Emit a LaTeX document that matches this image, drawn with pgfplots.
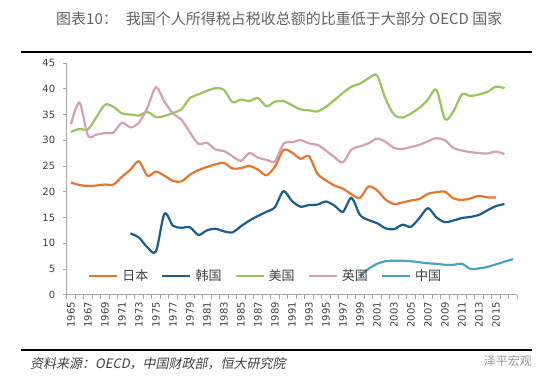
\documentclass[border=0pt]{standalone}
\usepackage{fontspec}
\setmainfont{DejaVu Sans}
\newfontfamily\cjk{Noto Sans CJK SC}
\newfontfamily\cjkit[FakeSlant=0.2]{Noto Sans CJK SC}
\usepackage{pgfplots}
\pgfplotsset{compat=1.18}
\definecolor{jp}{HTML}{E8772E}
\definecolor{kr}{HTML}{1A5E91}
\definecolor{us}{HTML}{9BC45C}
\definecolor{uk}{HTML}{D4A1B1}
\definecolor{cn}{HTML}{4BA3C3}
\definecolor{axisgray}{HTML}{A6A6A6}
\definecolor{labelgray}{HTML}{404040}
\definecolor{titlegray}{HTML}{626262}
\begin{document}
\begin{tikzpicture}[x=1pt,y=1pt]
\useasboundingbox (0,0) rectangle (550,382);
\node[anchor=west, font=\cjk\fontsize{15}{16}\selectfont, text=titlegray, inner sep=0pt] at (56,363) {图表10：\hspace{8pt}我国个人所得税占税收总额的比重低于大部分 OECD 国家};
\draw[line width=1.8pt] (21,330) -- (532,330);
\draw[line width=1.8pt] (21,32) -- (532,32);
\node[anchor=west, font=\cjkit\fontsize{13}{14}\selectfont, text=labelgray, inner sep=0pt] at (30,18) {资料来源：OECD，中国财政部，恒大研究院};
\node[anchor=east, font=\cjk\fontsize{12}{13}\selectfont, text=black!40, inner sep=0pt] at (532,21) {泽平宏观};
\begin{axis}[
  at={(66.7pt,87.3pt)}, anchor=south west,
  scale only axis, width=450.5pt, height=231.7pt,
  xmin=1964.5, xmax=2017.5, ymin=0, ymax=45,
  axis x line*=bottom, axis y line*=left,
  axis line style={draw=axisgray, line width=0.8pt},
  ytick={0,5,...,45},
  xtick={1965,1967,...,2015},
  minor xtick={1964.5,1965.5,...,2017.5},
  xtick style={draw=none},
  minor x tick style={draw=axisgray, line width=0.6pt},
  ytick style={draw=axisgray, line width=0.6pt},
  major tick length=4pt, minor tick length=4pt,
  tick align=outside,
  /pgf/number format/1000 sep={},
  /pgf/number format/assume math mode=true,
  tick label style={font=\fontsize{10}{10}\selectfont, text=labelgray},
  x tick label style={rotate=90, anchor=east},
  y tick label style={xshift=-4pt},
  legend style={at={(axis cs:1967,3.64)}, anchor=west, draw=none, fill=none, inner sep=0pt,
    legend columns=5, font=\cjk\fontsize{13}{13}\selectfont, text=labelgray,
    /tikz/every odd column/.append style={column sep=2pt},
    /tikz/every even column/.append style={column sep=11pt}},
  legend image code/.code={\draw[#1] (0pt,0pt) -- (28pt,0pt);},
  every axis plot/.append style={line width=2.2pt, smooth, tension=0.5, no markers},
]
\addplot[jp] coordinates {(1965,21.8)(1966,21.3)(1967,21.1)(1968,21.2)(1969,21.4)(1970,21.4)(1971,22.9)(1972,24.3)(1973,25.9)(1974,23.1)(1975,23.9)(1976,23.1)(1977,22.1)(1978,22.0)(1979,23.3)(1980,24.2)(1981,24.8)(1982,25.3)(1983,25.6)(1984,24.5)(1985,24.6)(1986,25.0)(1987,24.3)(1988,23.2)(1989,24.9)(1990,28.1)(1991,27.6)(1992,26.4)(1993,26.9)(1994,23.5)(1995,22.2)(1996,21.2)(1997,20.6)(1998,19.5)(1999,18.8)(2000,21.0)(2001,20.3)(2002,18.5)(2003,17.6)(2004,17.9)(2005,18.3)(2006,18.6)(2007,19.6)(2008,19.9)(2009,20.0)(2010,18.7)(2011,18.4)(2012,18.7)(2013,19.2)(2014,18.9)(2015,18.9)};
\addlegendentry{日本}
\addplot[kr] coordinates {(1972,11.9)(1973,11.1)(1974,9.2)(1975,8.4)(1976,15.7)(1977,13.4)(1978,13.0)(1979,13.1)(1980,11.6)(1981,12.5)(1982,12.8)(1983,12.3)(1984,12.1)(1985,13.3)(1986,14.4)(1987,15.3)(1988,16.1)(1989,17.0)(1990,20.1)(1991,18.2)(1992,17.1)(1993,17.4)(1994,17.5)(1995,18.1)(1996,17.3)(1997,16.1)(1998,18.8)(1999,15.5)(2000,14.5)(2001,13.9)(2002,12.9)(2003,12.7)(2004,13.6)(2005,13.2)(2006,14.9)(2007,16.8)(2008,15.0)(2009,14.1)(2010,14.4)(2011,14.9)(2012,15.1)(2013,15.5)(2014,16.4)(2015,17.2)(2016,17.6)};
\addlegendentry{韩国}
\addplot[us] coordinates {(1965,31.6)(1966,32.2)(1967,32.1)(1968,34.5)(1969,36.9)(1970,36.5)(1971,35.2)(1972,35.0)(1973,34.8)(1974,35.5)(1975,34.5)(1976,34.7)(1977,35.3)(1978,36.0)(1979,38.2)(1980,38.9)(1981,39.6)(1982,40.1)(1983,39.8)(1984,37.4)(1985,37.9)(1986,37.6)(1987,38.2)(1988,36.6)(1989,37.5)(1990,37.6)(1991,36.8)(1992,36.0)(1993,35.8)(1994,35.6)(1995,36.5)(1996,37.8)(1997,39.2)(1998,40.4)(1999,41.0)(2000,42.0)(2001,42.6)(2002,38.1)(2003,35.0)(2004,34.4)(2005,35.2)(2006,36.3)(2007,37.9)(2008,39.8)(2009,34.1)(2010,35.6)(2011,38.9)(2012,38.6)(2013,38.9)(2014,39.4)(2015,40.4)(2016,40.1)};
\addlegendentry{美国}
\addplot[uk] coordinates {(1965,33.1)(1966,37.3)(1967,30.9)(1968,31.1)(1969,31.4)(1970,31.5)(1971,33.4)(1972,32.5)(1973,33.4)(1974,36.3)(1975,40.3)(1976,37.5)(1977,35.2)(1978,34.0)(1979,31.5)(1980,29.3)(1981,29.5)(1982,28.2)(1983,27.9)(1984,26.9)(1985,26.0)(1986,27.5)(1987,26.6)(1988,26.2)(1989,25.9)(1990,29.3)(1991,29.6)(1992,30.0)(1993,29.4)(1994,29.1)(1995,28.0)(1996,26.7)(1997,25.7)(1998,28.2)(1999,28.8)(2000,29.4)(2001,30.3)(2002,29.7)(2003,28.5)(2004,28.3)(2005,28.7)(2006,29.1)(2007,29.8)(2008,30.4)(2009,30.0)(2010,28.5)(2011,28.0)(2012,27.7)(2013,27.5)(2014,27.4)(2015,27.8)(2016,27.3)};
\addlegendentry{英国}
\addplot[cn] coordinates {(1999,3.6)(2000,5.0)(2001,6.0)(2002,6.5)(2003,6.6)(2004,6.6)(2005,6.5)(2006,6.3)(2007,6.1)(2008,6.0)(2009,5.8)(2010,5.8)(2011,6.0)(2012,5.0)(2013,5.1)(2014,5.4)(2015,5.9)(2016,6.4)(2017,6.9)};
\addlegendentry{中国}
\end{axis}
\end{tikzpicture}
\end{document}
